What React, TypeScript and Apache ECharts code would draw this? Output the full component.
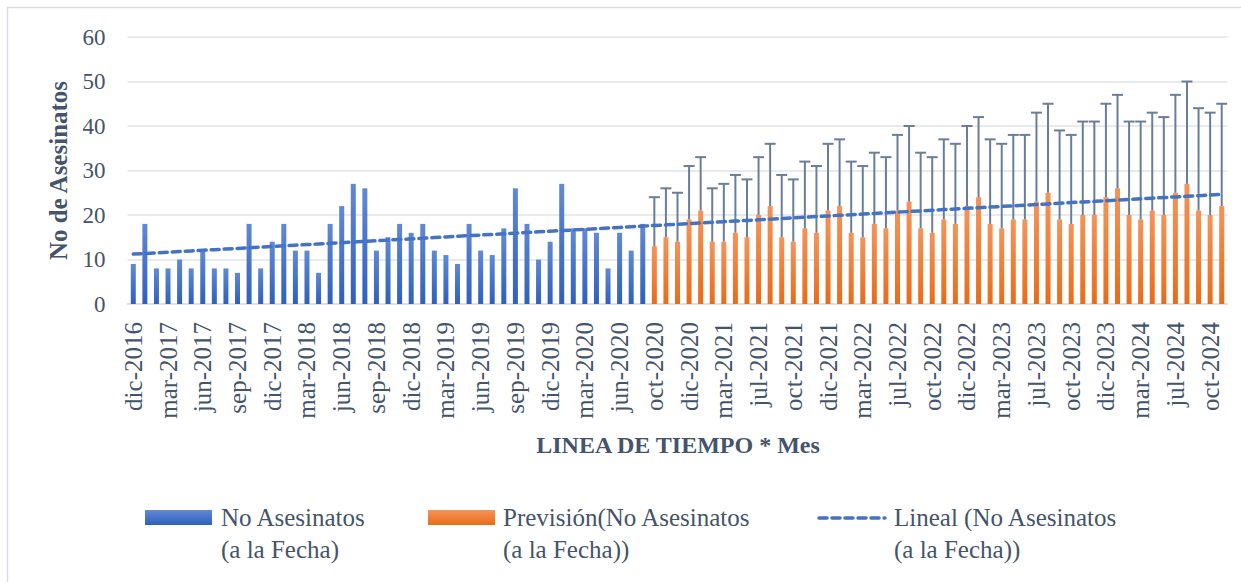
import React, { useEffect, useRef } from "react";
import * as echarts from "echarts";

// Tick labels shown every third month
const tickLabels: string[] = [
  "dic-2016", "mar-2017", "jun-2017", "sep-2017", "dic-2017", "mar-2018", "jun-2018", "sep-2018",
  "dic-2018", "mar-2019", "jun-2019", "sep-2019", "dic-2019", "mar-2020", "jun-2020", "oct-2020",
  "dic-2020", "mar-2021", "jul-2021", "oct-2021", "dic-2021", "mar-2022", "jul-2022", "oct-2022",
  "dic-2022", "mar-2023", "jul-2023", "oct-2023", "dic-2023", "mar-2024", "jul-2024", "oct-2024",
];

// Observed monthly values (No Asesinatos a la Fecha)
const actualValues: number[] = [
  9, 18, 8, 8, 10, 8, 12, 8, 8, 7, 18, 8, 14, 18, 12, 12, 7, 18, 22, 27, 26, 12, 15,
  18, 16, 18, 12, 11, 9, 18, 12, 11, 17, 26, 18, 10, 14, 27, 17, 17, 16, 8, 16, 12, 18,
];

// Forecast values (Previsión)
const forecastValues: number[] = [
  13, 15, 14, 19, 21, 14, 14, 16, 15, 20, 22, 15, 14, 17, 16, 21, 22, 16, 15, 18, 17, 21, 23, 17, 16,
  19, 18, 22, 24, 18, 17, 19, 19, 23, 25, 19, 18, 20, 20, 24, 26, 20, 19, 21, 20, 25, 27, 21, 20, 22,
];

// Upper confidence bound of forecast (error bar tops)
const forecastUpper: number[] = [
  24, 26, 25, 31, 33, 26, 27, 29, 28, 33, 36, 29, 28, 32, 31, 36, 37, 32, 31, 34, 33, 38, 40, 34, 33,
  37, 36, 40, 42, 37, 36, 38, 38, 43, 45, 39, 38, 41, 41, 45, 47, 41, 41, 43, 42, 47, 50, 44, 43, 45,
];

const yTicks = { min: 0, max: 60, interval: 10 };

const TEXT = "#44546a";
const FONT = "'Liberation Serif', 'Times New Roman', serif";

export default function App() {
  const ref = useRef<HTMLDivElement>(null);

  useEffect(() => {
    if (!ref.current) return;
    const chart = echarts.init(ref.current, undefined, { renderer: "svg" });

    const nA = actualValues.length;
    const total = nA + forecastValues.length;
    const categories: string[] = [];
    for (let i = 0; i < total; i++) categories.push("m" + i);

    const blue = categories.map((_, i) => (i < nA ? actualValues[i] : null));
    const orange = categories.map((_, i) => (i >= nA ? forecastValues[i - nA] : null));
    const errData = forecastValues.map((v, k) => [nA + k, v, forecastUpper[k]]);

    // Linear trend (least squares) of the observed series, extended over the whole axis
    let sx = 0, sy = 0, sxx = 0, sxy = 0;
    actualValues.forEach((y, x) => { sx += x; sy += y; sxx += x * x; sxy += x * y; });
    const slope = (nA * sxy - sx * sy) / (nA * sxx - sx * sx);
    const intercept = (sy - slope * sx) / nA;
    const trend = categories.map((_, i) => +(intercept + slope * i).toFixed(3));

    const blueGrad = new echarts.graphic.LinearGradient(0, 0, 0, 1, [
      { offset: 0, color: "#6189d4" },
      { offset: 1, color: "#2f60bd" },
    ]);
    const orangeGrad = new echarts.graphic.LinearGradient(0, 0, 0, 1, [
      { offset: 0, color: "#f4945a" },
      { offset: 1, color: "#e96c18" },
    ]);

    const legendText = (x: number, text: string) => ({
      type: "text",
      x,
      y: 501,
      style: {
        text,
        fill: TEXT,
        font: `25px ${FONT}`,
        lineHeight: 32,
        align: "left",
        verticalAlign: "top",
      },
    });

    chart.setOption({
      animation: false,
      backgroundColor: "#ffffff",
      grid: { left: 127.5, right: 13.5, top: 37, bottom: 278, containLabel: false },
      xAxis: {
        type: "category",
        data: categories,
        boundaryGap: true,
        axisLine: { show: true, lineStyle: { color: "#d9dde3", width: 1.5 } },
        axisTick: { show: false },
        axisLabel: {
          interval: 2,
          rotate: 90,
          margin: 18,
          color: TEXT,
          fontFamily: FONT,
          fontSize: 25,
          formatter: (_v: string, idx: number) => (idx % 3 === 0 ? tickLabels[idx / 3] : ""),
        },
      },
      yAxis: {
        type: "value",
        min: yTicks.min,
        max: yTicks.max,
        interval: yTicks.interval,
        axisLine: { show: false },
        axisTick: { show: false },
        splitLine: { lineStyle: { color: "#e1e4e9", width: 1.5 } },
        axisLabel: { color: TEXT, fontFamily: FONT, fontSize: 23, margin: 22 },
      },
      series: [
        {
          name: "No Asesinatos (a la Fecha)",
          type: "bar",
          data: blue,
          barWidth: 5,
          barGap: "-100%",
          itemStyle: { color: blueGrad },
          z: 2,
        },
        {
          name: "Previsión(No Asesinatos (a la Fecha))",
          type: "bar",
          data: orange,
          barWidth: 5,
          barGap: "-100%",
          itemStyle: { color: orangeGrad },
          z: 2,
        },
        {
          name: "err",
          type: "custom",
          data: errData,
          z: 3,
          renderItem: (_params: any, api: any) => {
            const x = api.value(0);
            const lo = api.coord([x, api.value(1)]);
            const hi = api.coord([x, api.value(2)]);
            const half = 5.5;
            const style = { stroke: "#6a7e99", lineWidth: 2 };
            return {
              type: "group",
              children: [
                { type: "line", shape: { x1: lo[0], y1: lo[1], x2: hi[0], y2: hi[1] }, style },
                { type: "line", shape: { x1: hi[0] - half, y1: hi[1], x2: hi[0] + half, y2: hi[1] }, style },
              ],
            };
          },
        },
        {
          name: "Lineal (No Asesinatos (a la Fecha))",
          type: "line",
          data: trend,
          symbol: "none",
          z: 4,
          lineStyle: { color: "#4472c4", width: 3.5, type: [8, 5], cap: "round" },
        },
      ],
      graphic: [
        {
          type: "rect",
          silent: true,
          shape: { x: 7.5, y: 7.5, width: 1400, height: 800 },
          style: { fill: "none", stroke: "#d9dde3", lineWidth: 1.5 },
        },
        {
          type: "text",
          x: 58,
          y: 170.5,
          rotation: Math.PI / 2,
          style: {
            text: "No de Asesinatos",
            fill: TEXT,
            font: `bold 25px ${FONT}`,
            align: "center",
            verticalAlign: "middle",
          },
        },
        {
          type: "text",
          x: 678,
          y: 445,
          style: {
            text: "LINEA DE TIEMPO * Mes",
            fill: TEXT,
            font: `bold 24px ${FONT}`,
            align: "center",
            verticalAlign: "middle",
          },
        },
        // Legend
        {
          type: "rect",
          shape: { x: 145, y: 510, width: 67, height: 15 },
          style: { fill: blueGrad },
        },
        legendText(221, "No Asesinatos\n(a la Fecha)"),
        {
          type: "rect",
          shape: { x: 428, y: 510, width: 67, height: 15 },
          style: { fill: orangeGrad },
        },
        legendText(503, "Previsión(No Asesinatos\n(a la Fecha))"),
        {
          type: "line",
          shape: { x1: 819, y1: 518, x2: 885, y2: 518 },
          style: { stroke: "#4472c4", lineWidth: 3.5, lineDash: [8, 5], lineCap: "round" },
        },
        legendText(894, "Lineal (No Asesinatos\n(a la Fecha))"),
      ],
    });

    return () => chart.dispose();
  }, []);

  return (
    <div
      ref={ref}
      style={{ position: "fixed", left: 0, top: 0, width: 1241, height: 582, background: "#fff" }}
    />
  );
}
